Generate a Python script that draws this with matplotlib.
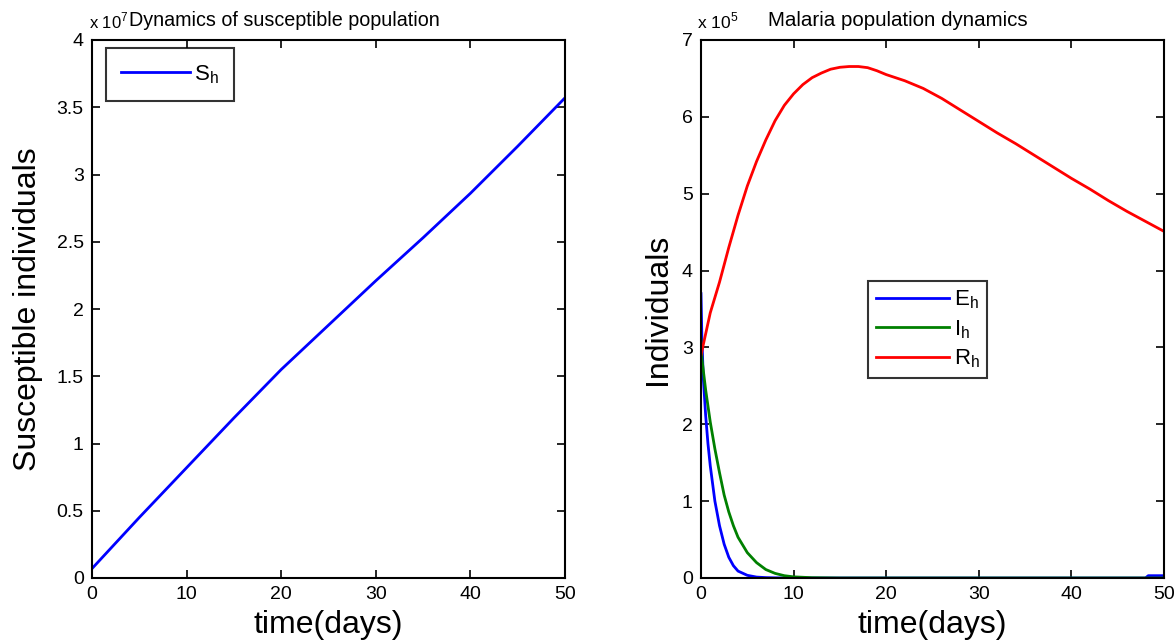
import matplotlib
matplotlib.use("Agg")
import matplotlib.pyplot as plt
from matplotlib.ticker import FuncFormatter, MultipleLocator
import numpy as np

plt.rcParams['font.family'] = ['Liberation Sans', 'DejaVu Sans']

# ---- data ----
t_s = [0, 5, 10, 15, 20, 25, 30, 35, 40, 45, 50]
S_h = [0.07, 0.45, 0.82, 1.19, 1.55, 1.88, 2.21, 2.53, 2.86, 3.21, 3.57]  # x 1e7

t_e = [0, 0.1, 0.25, 0.5, 0.75, 1, 1.5, 2, 2.5, 3, 3.5, 4, 5, 6, 7, 8, 10, 20, 30, 40, 48.0, 48.3, 50]
E_h = [3.7, 3.1, 2.6, 2.12, 1.75, 1.46, 1.0, 0.68, 0.44, 0.27, 0.16, 0.09, 0.035, 0.012, 0.005, 0.002, 0.0, 0.0, 0.0, 0.0, 0.0, 0.03, 0.03]  # x 1e5

t_i = [0, 0.1, 0.5, 1, 1.5, 2, 2.5, 3, 3.5, 4, 5, 6, 7, 8, 9, 10, 12, 15, 20, 30, 40, 50]
I_h = [3.1, 2.85, 2.45, 2.03, 1.68, 1.37, 1.08, 0.86, 0.68, 0.53, 0.33, 0.2, 0.11, 0.06, 0.03, 0.015, 0.004, 0.0, 0.0, 0.0, 0.0, 0.0]  # x 1e5

t_r = [0, 1, 2, 3, 4, 5, 6, 7, 8, 9, 10, 11, 12, 13, 14, 15, 16, 17, 18, 19, 20, 22, 24, 26, 28, 30, 32, 34, 36, 38, 40, 42, 44, 46, 48, 50]
R_h = [2.9, 3.45, 3.85, 4.3, 4.72, 5.1, 5.42, 5.7, 5.95, 6.15, 6.3, 6.42, 6.51, 6.57, 6.62, 6.645, 6.655, 6.655, 6.64, 6.6, 6.55, 6.47, 6.37, 6.24, 6.09, 5.94, 5.79, 5.65, 5.5, 5.35, 5.2, 5.06, 4.91, 4.77, 4.64, 4.51]  # x 1e5

x_ticks = [0, 10, 20, 30, 40, 50]
S_scale = 1e7
M_scale = 1e5

W, H = 1176, 642
fig = plt.figure(figsize=(W / 100, H / 100), dpi=100)

def fx(px):
    return px / W

def fy(py):
    return 1 - py / H

ax1 = fig.add_axes([fx(92), fy(578), fx(565) - fx(92), fy(40) - fy(578)])
ax2 = fig.add_axes([fx(701), fy(578), fx(1164) - fx(701), fy(40) - fy(578)])

lw = 2.0
sub = lambda s: s + '$_\\mathregular{h}$'
ax1.plot(t_s, np.array(S_h) * S_scale, color=(0, 0, 1), lw=lw, label=sub('S'))
ax2.plot(t_e, np.array(E_h) * M_scale, color=(0, 0, 1), lw=lw, label=sub('E'))
ax2.plot(t_i, np.array(I_h) * M_scale, color=(0, 0.5, 0), lw=lw, label=sub('I'))
ax2.plot(t_r, np.array(R_h) * M_scale, color=(1, 0, 0), lw=lw, label=sub('R'))

tick_fs = 14
label_fs = 23
for ax, scale, ymax, ystep in [(ax1, S_scale, 4, 0.5), (ax2, M_scale, 7, 1)]:
    ax.set_xlim(0, 50)
    ax.set_ylim(0, ymax * scale)
    ax.set_xticks(x_ticks)
    ax.yaxis.set_major_locator(MultipleLocator(ystep * scale))
    ax.yaxis.set_major_formatter(FuncFormatter(lambda v, p, s=scale: f"{v / s:g}"))
    ax.tick_params(direction='in', length=6, width=1.2, top=True, right=True,
                   labelsize=tick_fs, pad=6, color='black')
    for sp in ax.spines.values():
        sp.set_linewidth(1.5)
        sp.set_color('black')
    ax.set_xlabel('time(days)', fontsize=label_fs, labelpad=5)

ax1.set_ylabel('Susceptible individuals', fontsize=label_fs, labelpad=10)
ax2.set_ylabel('Individuals', fontsize=label_fs, labelpad=6)

# titles and exponent labels
fig.text(fx(89), fy(21), 'x 10$^\\mathregular{7}$', fontsize=12, ha='left', va='center')
fig.text(fx(129), fy(20), 'Dynamics of susceptible population', fontsize=14.2, ha='left', va='center')
fig.text(fx(697), fy(21), 'x 10$^\\mathregular{5}$', fontsize=12.5, ha='left', va='center')
fig.text(fx(768), fy(20), 'Malaria population dynamics', fontsize=14.8, ha='left', va='center')

leg_kw = dict(fontsize=16, frameon=True, fancybox=False, edgecolor='black',
              borderaxespad=0, handletextpad=0.2)
l1 = ax1.legend(loc='upper left', bbox_to_anchor=(fx(106), fy(48)),
                bbox_transform=fig.transFigure, borderpad=0.68, handlelength=3.1, **leg_kw)
l2 = ax2.legend(loc='upper left', bbox_to_anchor=(fx(868), fy(281)),
                bbox_transform=fig.transFigure, labelspacing=0.3, borderpad=0.35,
                handlelength=3.3, **leg_kw)
for lg in (l1, l2):
    lg.get_frame().set_linewidth(1.5)

fig.savefig('out.png', dpi=100)
